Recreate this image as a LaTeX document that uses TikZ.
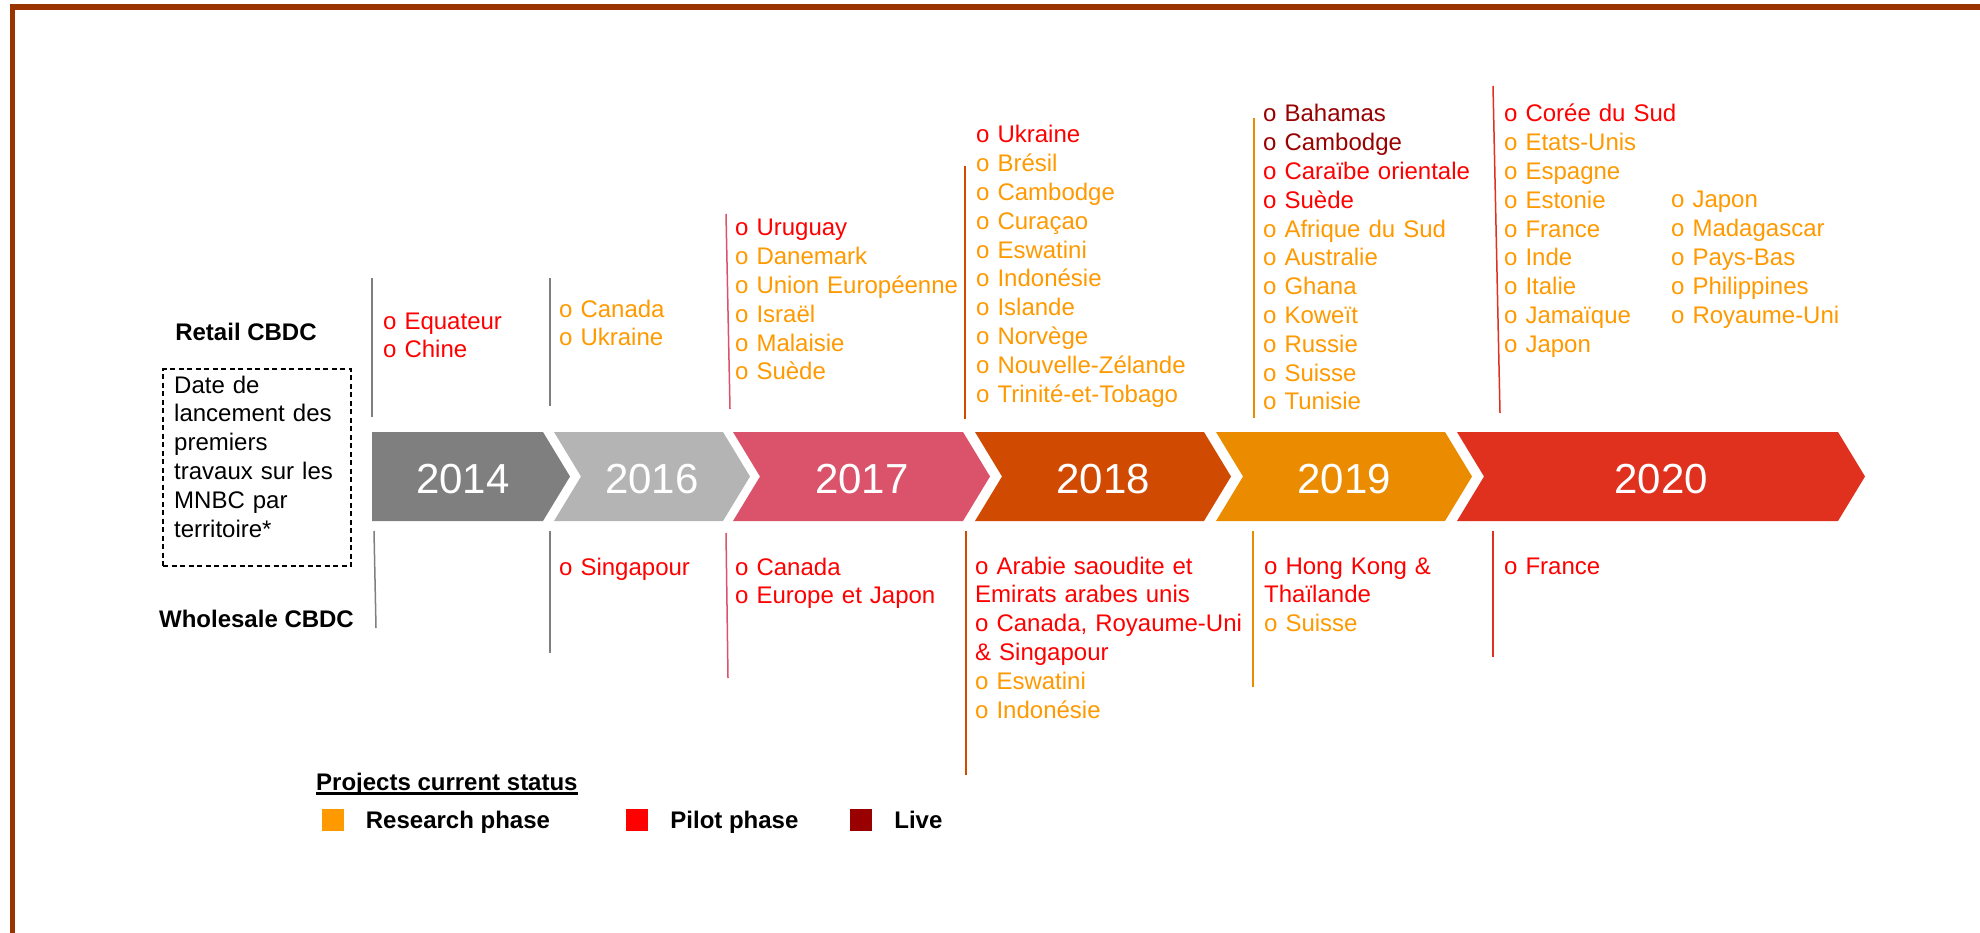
\documentclass[tikz,border=0pt]{standalone}
\usepackage{fontspec}
\setmainfont{Liberation Sans}
\usetikzlibrary{positioning}
\definecolor{brd}{HTML}{993300}
\definecolor{c14}{HTML}{7F7F7F}
\definecolor{c16}{HTML}{B4B4B4}
\definecolor{c17}{HTML}{DB536A}
\definecolor{c18}{HTML}{D04A02}
\definecolor{c19}{HTML}{EB8C00}
\definecolor{c20}{HTML}{E0301E}
\definecolor{research}{HTML}{FF9900}
\definecolor{pilot}{HTML}{FF0000}
\definecolor{live}{HTML}{990000}
\newcommand{\resc}[1]{\textcolor{research}{#1}}
\newcommand{\pilc}[1]{\textcolor{pilot}{#1}}
\newcommand{\livc}[1]{\textcolor{live}{#1}}

\begin{document}
\begin{tikzpicture}[x=1pt,y=-1pt,node distance=22pt]
  \tikzstyle{clist}=[anchor=base west,inner sep=0pt,text width=300pt,align=left,text=research,
                     font=\fontsize{24}{28.8}\selectfont]
  \tikzstyle{yr}=[anchor=base,inner sep=0pt,text=white,font=\fontsize{42}{50}\selectfont]
  \tikzstyle{hdr}=[anchor=base,inner sep=0pt,font=\fontsize{24}{28.8}\selectfont\bfseries]
  \tikzstyle{tickline}=[line width=1.5pt]
  \tikzstyle{sq}=[fill,inner sep=0pt,minimum size=22pt]
  \useasboundingbox (0,0) rectangle (1980,933);
  \draw[brd,line width=5.5pt] (12.5,933) -- (12.5,7) -- (1980,7);

  \foreach \n/\l/\r/\d/\tx/\c in {2014/372/543/0/463/c14, 2016/554/723/27/652/c16,
      2017/733/963/27/862/c17, 2018/975/1204/27/1103/c18, 2019/1216/1445/27/1344/c19,
      2020/1457/1838/27/1661/c20}{
    \fill[\c] (\l,432) -- (\r,432) -- (\r+27,476.5) -- (\r,521) -- (\l,521) -- (\l+\d,476.5) -- cycle;
    \node[yr] (y\n) at (\tx,493) {\n};
  }

  \foreach \xa/\ya/\xb/\yb/\c in {372/278/372/417/c14, 550/278/550/406/c14, 726/214/730/409/c17,
      965/166/965/419/c18, 1254/118/1254/418/c19, 1493/86/1500/413/c20,
      374/531/376/628/c14, 550/531/550/653/c14, 726/533/728/678/c17,
      966/531/966/775/c18, 1253/531/1253/687/c19, 1493/531/1493/657/c20}
    \draw[tickline,\c] (\xa,\ya) -- (\xb,\yb);

  \node[hdr] (retail) at (246,340) {Retail CBDC};
  \node[hdr] (wholesale) at (256.5,627) {Wholesale CBDC};
  \node[draw,dashed,dash pattern=on 5pt off 3.5pt,line width=1.5pt,inner sep=0pt,
        minimum width=188pt,minimum height=197pt] (datebox) at (257,467.5) {};
  \node[clist,text=black] (datetxt) at (174,393)
    {Date de\\lancement des\\premiers\\travaux sur les\\MNBC par\\territoire*};

  \node[clist] (top14) at (383,329) {\pilc{o Equateur}\\\pilc{o Chine}};
  \node[clist] (top16) at (559,317) {o Canada\\o Ukraine};
  \node[clist] (top17) at (735,236)
    {\pilc{o Uruguay}\\o Danemark\\o Union Européenne\\o Israël\\o Malaisie\\o Suède};
  \node[clist] (top18) at (976,143)
    {\pilc{o Ukraine}\\o Brésil\\o Cambodge\\o Curaçao\\o Eswatini\\o Indonésie\\o Islande\\o Norvège\\o Nouvelle-Zélande\\o Trinité-et-Tobago};
  \node[clist] (top19) at (1263,122)
    {\livc{o Bahamas}\\\livc{o Cambodge}\\\pilc{o Caraïbe orientale}\\\pilc{o Suède}\\o Afrique du Sud\\o Australie\\o Ghana\\o Koweït\\o Russie\\o Suisse\\o Tunisie};
  \node[clist] (top20) at (1504,122)
    {\pilc{o Corée du Sud}\\o Etats-Unis\\o Espagne\\o Estonie\\o France\\o Inde\\o Italie\\o Jamaïque\\o Japon};
  \node[clist] (top20b) at (1671,208)
    {o Japon\\o Madagascar\\o Pays-Bas\\o Philippines\\o Royaume-Uni};

  \node[clist,text=pilot] (bot16) at (559,575) {o Singapour};
  \node[clist,text=pilot] (bot17) at (735,575) {o Canada\\o Europe et Japon};
  \node[clist,text=pilot] (bot18) at (975,574)
    {o Arabie saoudite et\\Emirats arabes unis\\o Canada, Royaume-Uni\\\& Singapour\\\resc{o Eswatini}\\\resc{o Indonésie}};
  \node[clist,text=pilot] (bot19) at (1264,574) {o Hong Kong \&\\Thaïlande\\\resc{o Suisse}};
  \node[clist,text=pilot] (bot20) at (1504,574) {o France};

  \node[hdr,anchor=base west] (legtitle) at (316,790) {Projects current status};
  \draw[line width=2.5pt] ([yshift=-3.5pt]legtitle.base west) -- ([yshift=-3.5pt]legtitle.base east);
  \node[sq,research] (sqres) at (332.5,820) {};
  \node[hdr,right=of sqres,yshift=-2pt] (legres) {Research phase};
  \node[sq,pilot] (sqpil) at (637,820) {};
  \node[hdr,right=of sqpil,yshift=-2pt] (legpil) {Pilot phase};
  \node[sq,live] (sqliv) at (861,820) {};
  \node[hdr,right=of sqliv] (legliv) {Live};
\end{tikzpicture}
\end{document}
